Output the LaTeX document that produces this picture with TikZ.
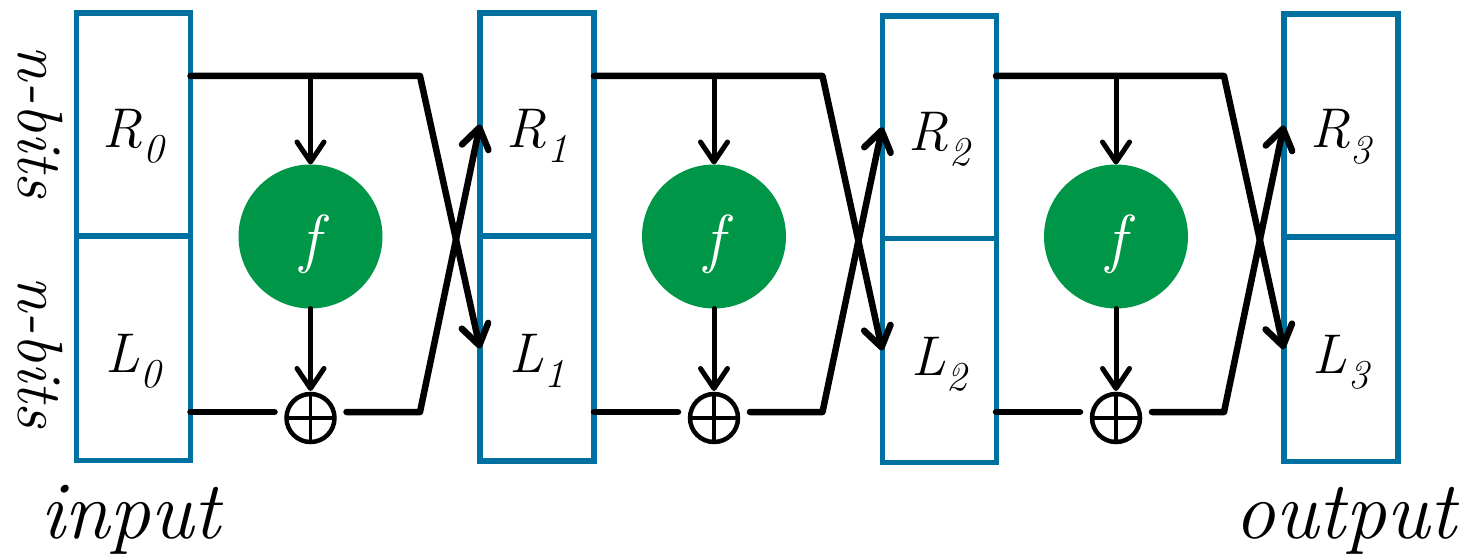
\documentclass[tikz,border=0pt]{standalone}
\usepackage{fontspec}
\usetikzlibrary{arrows.meta}
\definecolor{boxblue}{RGB}{0,112,160}
\definecolor{fgreen}{RGB}{0,150,72}
\newcommand\mysub[1]{\kern1pt\raisebox{-15pt}{\fontsize{41}{41}\selectfont #1}}
\tikzset{
  half/.style={rectangle, draw=boxblue, line width=5.5pt, minimum width=114pt, inner sep=0pt, outer sep=0pt},
  lbl/.style={font=\fontsize{56}{56}\selectfont\itshape, anchor=base, inner sep=0pt},
  fnode/.style={circle, fill=fgreen, minimum size=144pt, inner sep=0pt, outer sep=0pt},
  ftxt/.style={font=\fontsize{65}{65}\selectfont\itshape, text=white, anchor=base, inner sep=0pt},
  oplus/.style={circle, draw, line width=4.5pt, minimum size=48pt, inner sep=0pt, outer sep=0pt,
    path picture={\draw[line width=3.5pt] (path picture bounding box.north) -- (path picture bounding box.south)
      (path picture bounding box.west) -- (path picture bounding box.east);}},
  wire/.style={line width=6.5pt, line cap=round, line join=round},
  tipped/.style={-{Straight Barb[length=20pt,width=27pt,round]}},
  varrow/.style={line width=5pt, line cap=round, tipped},
  bits/.style={font=\fontsize{64}{64}\selectfont\itshape, rotate=-90, anchor=base, inner sep=0pt},
  io/.style={font=\fontsize{82}{82}\selectfont\itshape, inner sep=0pt},
}
\begin{document}
\begin{tikzpicture}[x=1pt,y=-1pt]
\useasboundingbox (0,0) rectangle (1472,559);
% registers
\foreach \i/\cx/\ty/\my/\by in {0/133.25/13/236/460.5, 1/537/13/236/461, 2/939.25/16/238.5/462.5, 3/1340.75/14/237/461.5}{
  \node[half, minimum height={\my-\ty}] (R\i) at (\cx,{(\ty+\my)/2}) {};
  \node[half, minimum height={\by-\my}] (L\i) at (\cx,{(\my+\by)/2}) {};
}
\node[lbl] (rl0) at (133.25,147) {R\mysub{0}};
\node[lbl] (ll0) at (133.25,372) {L\mysub{0}};
\node[lbl] (rl1) at (537,147) {R\mysub{1}};
\node[lbl] (ll1) at (537,372) {L\mysub{1}};
\node[lbl] (rl2) at (939.25,150) {R\mysub{2}};
\node[lbl] (ll2) at (939.25,375) {L\mysub{2}};
\node[lbl] (rl3) at (1340.75,148) {R\mysub{3}};
\node[lbl] (ll3) at (1340.75,373) {L\mysub{3}};
% side labels
\node[bits] (nb1) at (18,122) {n-bits};
\node[bits] (nb2) at (18,352) {n-bits};
\node[io, anchor=base west] (in) at (40,538) {input};
\node[io, anchor=base east] (out) at (1456,538) {output};
% rounds
\foreach \k/\n/\rx/\fx/\bx in {0/1/190.5/310.5/420, 1/2/594/714/822.5, 2/3/996/1116/1224}{
  \coordinate (ta\k) at (\rx,76);
  \coordinate (tj\k) at (\fx,76);
  \coordinate (tb\k) at (\bx,76);
  \coordinate (ba\k) at (\rx,412);
  \coordinate (bb\k) at (\bx,412);
  \node[fnode] (f\k) at (\fx,236.5) {};
  \node[ftxt] (fl\k) at (\fx,260) {f};
  \node[oplus] (x\k) at (\fx,418) {};
  \draw[wire, tipped] (ta\k) -- (tb\k) -- (L\n.west);
  \draw[varrow] (tj\k) -- (f\k.north);
  \draw[varrow, shorten >=3pt] (f\k.south) -- (x\k.north);
  \draw[wire, shorten >=12pt] (ba\k) -- (ba\k -| x\k.west);
  \draw[wire, tipped, shorten <=12pt] (ba\k -| x\k.east) -- (bb\k) -- (R\n.west);
}
\end{tikzpicture}
\end{document}
